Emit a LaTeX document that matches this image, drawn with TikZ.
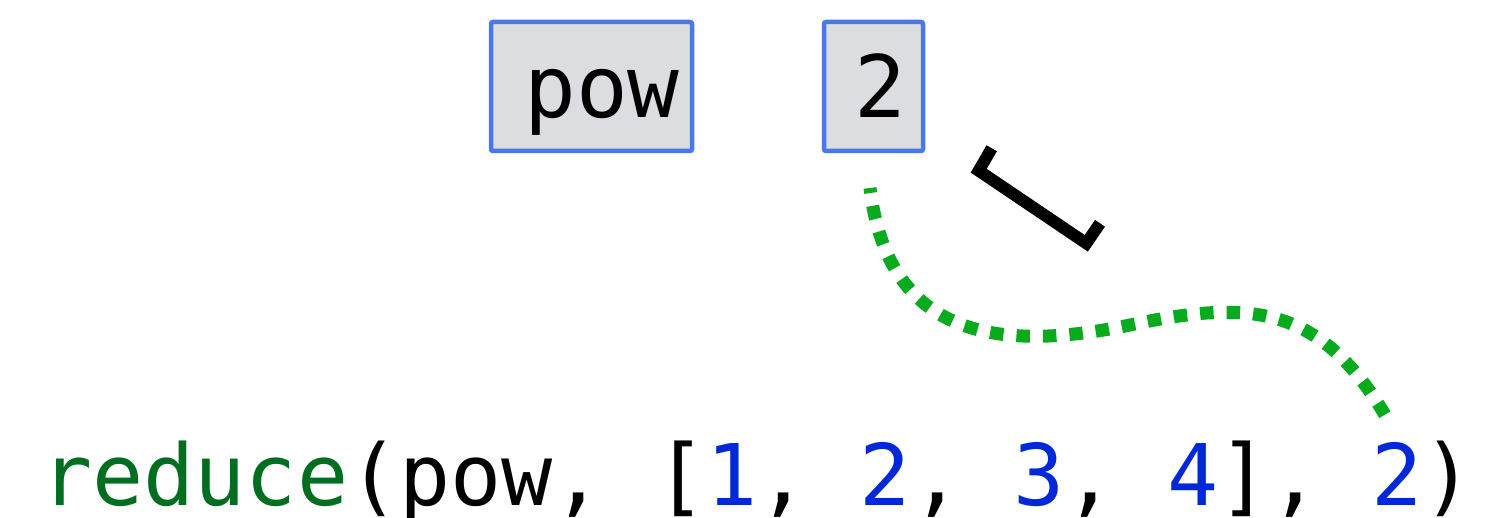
\documentclass[tikz,border=0pt]{standalone}
\usepackage{fontspec}
\setmonofont{DejaVu Sans Mono}
\definecolor{boxfill}{HTML}{DCDDE0}
\definecolor{boxline}{HTML}{4A78E8}
\definecolor{dotgreen}{HTML}{08AA1E}
\definecolor{fngreen}{HTML}{006E20}
\definecolor{numblue}{HTML}{0028D8}
\begin{document}
\begin{tikzpicture}[x=1pt,y=-1pt,
  valbox/.style={draw=boxline, line width=4.5pt, fill=boxfill, rounded corners=2pt, inner sep=0pt},
  code/.style={font=\ttfamily\fontsize{85}{100}\selectfont, inner sep=0pt, anchor=base west},
  boxtext/.style={font=\ttfamily\fontsize{86}{100}\selectfont, inner sep=0pt, anchor=base},
  flow/.style={draw=dotgreen, line width=13pt, dash pattern=on 13.5pt off 13pt, dash phase=8.5pt},
  bracketline/.style={draw=black, line width=12pt, miter limit=10}
]
\useasboundingbox (0,0) rectangle (1485,518);
\node[valbox, minimum width=201pt, minimum height=129pt] (powbox) at (591.5,86.5) {};
\node[boxtext] (powtext) at (602,118) {pow};
\node[valbox, minimum width=99pt, minimum height=129pt] (twobox) at (873.5,86.5) {};
\node[boxtext] (twotext) at (880,118) {2};
\node[code] (call) at (41,505) {\textcolor{fngreen}{reduce}(pow, [\textcolor{numblue}{1}, \textcolor{numblue}{2}, \textcolor{numblue}{3}, \textcolor{numblue}{4}], \textcolor{numblue}{2})};
\coordinate (flowstart) at (870,188);
\coordinate (flowmid) at (1130,325);
\coordinate (flowend) at (1385,415);
\draw[flow] (flowstart) .. controls (887,327) and (983,356) .. (flowmid)
  .. controls (1247,300) and (1318.7,303.2) .. (flowend);
\draw[bracketline] (991.7,148.3) -- (978.7,170.7) -- (1086.3,243.3) -- (1100,223.3);
\end{tikzpicture}
\end{document}
